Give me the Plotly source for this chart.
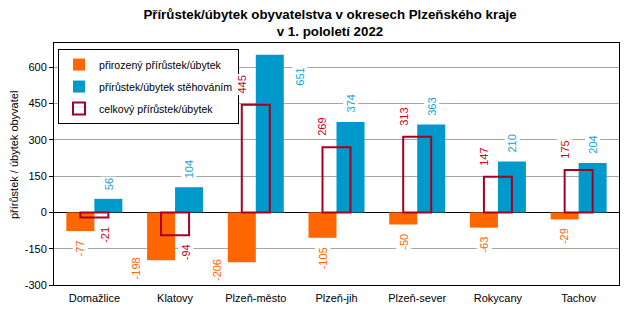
import plotly.graph_objects as go

categories = ["Domažlice", "Klatovy", "Plzeň-město", "Plzeň-jih", "Plzeň-sever", "Rokycany", "Tachov"]
natural = [-77, -198, -206, -105, -50, -63, -29]
migration = [56, 104, 651, 374, 363, 210, 204]
total = [-21, -94, 445, 269, 313, 147, 175]
y_ticks = [-300, -150, 0, 150, 300, 450, 600]
y_tick_labels = ["-300", "-150", "0", "150", "300", "450", "600"]
series_names = ["přirozený přírůstek/úbytek", "přírůstek/úbytek stěhováním", "celkový přírůstek/úbytek"]

# styling / layout
FONT = "Liberation Sans, Arial, sans-serif"
C_NAT, C_MIG, C_TOT_LINE = "#FF6600", "#0099CC", "#A50021"
C_NAT_T, C_MIG_T, C_TOT_T = "#FF6600", "#1A9FD6", "#D0001A"
Y_MIN, Y_MAX = -300, 700
W = 0.347  # bar width in category units
ML, MR, MT, MB = 54, 18, 43, 36
PLOT_W = 637 - ML - MR
PX_PER_CAT = PLOT_W / len(categories)

# label pixel adjustments (xshift relative to bar centre, extra yshift)
nat_label_adj = {1: (-25, 12), 2: (-25, 12)}
mig_label_adj = {2: (30, -40)}

fig = go.Figure()
fig.add_trace(go.Bar(x=categories, y=natural, width=W, offset=-W, name=series_names[0],
                     marker=dict(color=C_NAT, line=dict(width=0)), legendgroup="a"))
fig.add_trace(go.Bar(x=categories, y=migration, width=W, offset=0, name=series_names[1],
                     marker=dict(color=C_MIG, line=dict(width=0)), legendgroup="b"))
fig.add_trace(go.Bar(x=categories, y=total, width=W, offset=-W / 2, name=series_names[2],
                     marker=dict(color="rgba(0,0,0,0)", line=dict(color=C_TOT_LINE, width=2)),
                     legendgroup="c"))

bar_shift = W * PX_PER_CAT
ann = []
lf = dict(family=FONT, size=11)
for i, c in enumerate(categories):
    dx, dy = nat_label_adj.get(i, (0, 0))
    ann.append(dict(x=c, y=natural[i], text=str(natural[i]), textangle=-90, showarrow=False,
                    xshift=-bar_shift / 2 + dx, yshift=-7 + dy, yanchor="top",
                    bgcolor="white", font=dict(color=C_NAT_T, **lf)))
    dx, dy = mig_label_adj.get(i, (0, 0))
    ann.append(dict(x=c, y=migration[i], text=str(migration[i]), textangle=-90, showarrow=False,
                    xshift=bar_shift / 2 + dx, yshift=7 + dy, yanchor="bottom",
                    bgcolor="white", font=dict(color=C_MIG_T, **lf)))
    if total[i] >= 0:
        ann.append(dict(x=c, y=total[i], text=str(total[i]), textangle=-90, showarrow=False,
                        xshift=-14, yshift=9, yanchor="bottom",
                        bgcolor="white", font=dict(color=C_TOT_T, **lf)))
    else:
        ann.append(dict(x=c, y=total[i], text=str(total[i]), textangle=-90, showarrow=False,
                        xshift=11, yshift=-7, yanchor="top",
                        bgcolor="white", font=dict(color=C_TOT_T, **lf)))

ann.append(dict(x=(14 - ML) / PLOT_W, y=0.537, xref="paper", yref="paper", xanchor="center",
                yanchor="middle", text="přírůstek / úbytek obyvatel", textangle=-90, showarrow=False,
                font=dict(family=FONT, size=11, color="black")))

zero_pos = (0 - Y_MIN) / (Y_MAX - Y_MIN)
n = len(categories)

fig.update_layout(
    width=637, height=321,
    margin=dict(l=ML, r=MR, t=MT, b=MB),
    paper_bgcolor="white", plot_bgcolor="white",
    barmode="overlay",
    font=dict(family=FONT, size=11, color="black"),
    title=dict(text="<b>Přírůstek/úbytek obyvatelstva v okresech Plzeňského kraje<br>v 1. pololetí 2022</b>",
               x=330 / 637, xanchor="center", y=1 - 19 / 321, yanchor="top",
               font=dict(family=FONT, size=13.3, color="black")),
    xaxis=dict(type="category", range=[-0.5, n - 0.5], showline=True, linecolor="black", linewidth=1,
               mirror=True, ticks="outside", ticklen=3, tickcolor="rgba(0,0,0,0)", showgrid=False,
               tickfont=dict(family=FONT, size=11, color="black")),
    xaxis2=dict(overlaying="x", anchor="free", position=zero_pos, range=[-0.5, n - 0.5],
                tickvals=[i + 0.5 for i in range(n - 1)], ticks="outside", ticklen=4,
                tickcolor="black", showticklabels=False, showline=False, showgrid=False,
                zeroline=False),
    yaxis=dict(range=[Y_MIN, Y_MAX], tickvals=y_ticks, ticktext=y_tick_labels,
               showgrid=True, gridcolor="#A6A6A6", gridwidth=1,
               zeroline=True, zerolinecolor="black", zerolinewidth=1,
               showline=True, linecolor="black", linewidth=1, mirror=True,
               ticks="outside", ticklen=4, tickcolor="black",
               tickfont=dict(family=FONT, size=11, color="black")),
    legend=dict(x=(58 - ML) / PLOT_W, y=0.975, xanchor="left", yanchor="top",
                bgcolor="white", bordercolor="black", borderwidth=1,
                traceorder="grouped", tracegroupgap=3, itemwidth=30,
                font=dict(family=FONT, size=10.6, color="black")),
    annotations=ann,
    showlegend=True,
)

fig.write_html("out.html", config={"displayModeBar": False},
               post_script="document.body.style.margin='0';")
